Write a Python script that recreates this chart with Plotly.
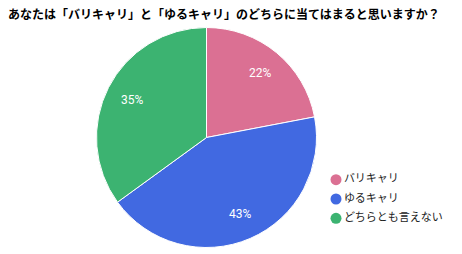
import math
import plotly.graph_objects as go

title = "あなたは「バリキャリ」と「ゆるキャリ」のどちらに当てはまると思いますか？"
labels = ["バリキャリ", "ゆるキャリ", "どちらとも言えない"]
values = [22, 43, 35]
colors = ["#DB7093", "#4169E1", "#3CB371"]

W, H = 462, 254
cx, cy, r = 206.5, 137.5, 110

fig = go.Figure()
fig.add_trace(go.Pie(
    labels=labels, values=values, sort=False, direction="clockwise", rotation=0,
    marker=dict(colors=colors, line=dict(color="white", width=1)),
    textinfo="none",
    domain=dict(x=[(cx - r) / W, (cx + r) / W], y=[(H - cy - r) / H, (H - cy + r) / H]),
    showlegend=False, hoverinfo="label+percent",
))

# percentage labels placed along each slice bisector at 0.76 of the radius
total = sum(values)
cum = 0
for v in values:
    mid = (cum + v / 2) / total * 2 * math.pi
    cum += v
    px = cx + 0.76 * r * math.sin(mid)
    py = cy - 0.76 * r * math.cos(mid)
    fig.add_annotation(
        x=px / W, y=1 - py / H, xref="paper", yref="paper", showarrow=False,
        text=f"{round(v / total * 100)}%", xanchor="center", yanchor="middle",
        font=dict(color="white", size=12, family="Roboto, Arial, sans-serif"),
    )

# legend drawn as markers + text on hidden axes
fig.add_trace(go.Scatter(
    x=[0] * len(labels), y=list(range(len(labels))), mode="markers+text",
    text=labels, textposition="middle right",
    marker=dict(symbol="circle", size=11, color=colors),
    textfont=dict(size=11, color="#222", family="Noto Sans CJK JP"),
    cliponaxis=False, hoverinfo="skip", showlegend=False,
))

fig.update_layout(
    width=W, height=H, margin=dict(l=0, r=0, t=0, b=0, autoexpand=False),
    paper_bgcolor="white", plot_bgcolor="rgba(0,0,0,0)",
    xaxis=dict(visible=False, domain=[336 / W, 1], range=[0, 1], fixedrange=True),
    yaxis=dict(visible=False, domain=[(H - 228) / H, (H - 170) / H], range=[2.5, -0.5], fixedrange=True),
    title=dict(text="<b>" + title + "</b>", x=8 / W, xanchor="left", y=1 - 15 / H, yanchor="middle",
               font=dict(size=12, color="#000", family="Noto Sans CJK JP")),
    showlegend=False,
)
fig.write_html("out.html")
